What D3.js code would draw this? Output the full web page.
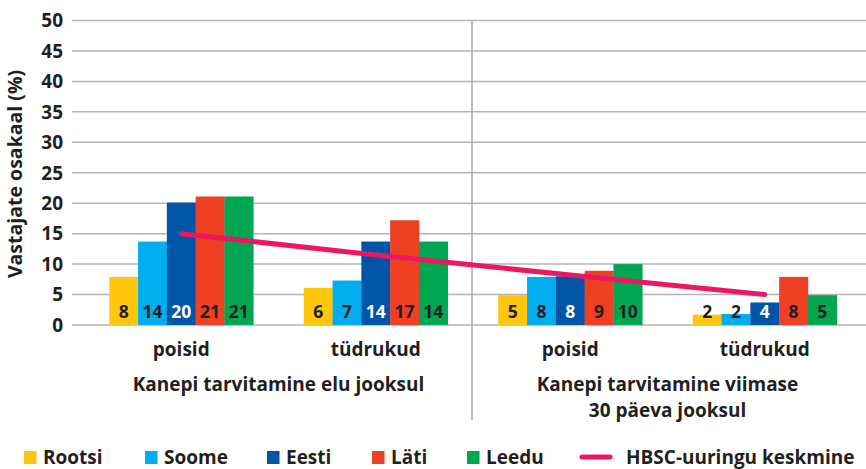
<!DOCTYPE html>
<html><head><meta charset="utf-8">
<script src="https://cdn.jsdelivr.net/npm/d3@7"></script>
<style>body{margin:0;background:#fff}svg{display:block}text{font-family:"Open Sans",sans-serif;font-weight:700;fill:#231f20}</style>
</head><body><svg id="c" width="866" height="469"></svg>
<script>
const groups = ["g1","g2","g3","g4"];
const groupLabels = ["poisid","tüdrukud","poisid","tüdrukud"];
const sectionLabels = [["Kanepi tarvitamine elu jooksul"],["Kanepi tarvitamine viimase","30 päeva jooksul"]];
const countries = ["Rootsi","Soome","Eesti","Läti","Leedu"];
const colors = ["#FFC60B","#00AEEF","#0055A6","#EF4023","#00A651"];
const values = [
  [7.9,13.7,20.1,21.1,21.1],
  [6.1,7.3,13.7,17.2,13.7],
  [4.9,7.9,8.0,8.9,10.0],
  [1.7,1.8,3.7,7.9,4.9]
];
const valueLabels = [
  [8,14,20,21,21],
  [6,7,14,17,14],
  [5,8,8,9,10],
  [2,2,4,8,5]
];
const hbsc = [15,11.5,8.2,5];
const hbscName = "HBSC-uuringu keskmine";
const yTicks = [0,5,10,15,20,25,30,35,40,45,50];
const yTitle = "Vastajate osakaal (%)";

const svg = d3.select("#c");
const x0 = d3.scaleBand().domain(groups).range([84,862]);
const x1 = d3.scaleBand().domain(countries).range([0,x0.bandwidth()]).paddingOuter(0.877);
const y = d3.scaleLinear().domain([0,50]).range([325,20.5]);

// grid
svg.append("g").selectAll("line").data(yTicks).join("line")
  .attr("x1",72).attr("x2",866).attr("y1",d=>y(d)).attr("y2",d=>y(d))
  .attr("stroke","#b5b5b5").attr("stroke-width",1.5);
svg.append("g").selectAll("text").data(yTicks).join("text")
  .attr("x",63).attr("y",d=>y(d)).attr("dy","0.36em").attr("text-anchor","end")
  .attr("font-size",19).text(d=>d);
svg.append("text").attr("transform","translate(22,174) rotate(-90)")
  .attr("text-anchor","middle").attr("font-size",19.5).text(yTitle);

// divider
svg.append("line").attr("x1",472).attr("x2",472).attr("y1",y(50)).attr("y2",420)
  .attr("stroke","#a8a8a8").attr("stroke-width",1.5);

// bars
const gg = svg.append("g").selectAll("g").data(groups).join("g")
  .attr("transform",g=>`translate(${x0(g)},0)`);
gg.selectAll("rect").data((g,i)=>values[i].map((v,j)=>({v,j}))).join("rect")
  .attr("x",d=>x1(countries[d.j])).attr("width",x1.bandwidth()+0.3)
  .attr("y",d=>y(d.v)).attr("height",d=>y(0)-y(d.v)).attr("fill",d=>colors[d.j]);
gg.selectAll("text.v").data((g,i)=>valueLabels[i].map((v,j)=>({v,j}))).join("text")
  .attr("class","v").attr("x",d=>x1(countries[d.j])+x1.bandwidth()/2).attr("y",318)
  .attr("text-anchor","middle").attr("font-size",17.5)
  .style("fill",d=>d.j===2?"#fff":"#231f20").text(d=>d.v);

// HBSC line
const line = d3.line().x((d,i)=>x0(groups[i])+x0.bandwidth()/2).y(d=>y(d));
svg.append("path").datum(hbsc).attr("d",line).attr("fill","none")
  .attr("stroke","#EC1763").attr("stroke-width",5).attr("stroke-linecap","round");

// category labels
svg.append("g").selectAll("text").data(groups).join("text")
  .attr("x",g=>x0(g)+x0.bandwidth()/2).attr("y",356).attr("text-anchor","middle")
  .attr("font-size",19).text((g,i)=>groupLabels[i]);
sectionLabels.forEach((lines,k)=>{
  const cx = (x0(groups[2*k])+x0(groups[2*k+1])+x0.bandwidth())/2;
  lines.forEach((s,li)=>svg.append("text").attr("x",cx).attr("y",391+li*26)
    .attr("text-anchor","middle").attr("font-size",19).text(s));
});

// legend
const legX = [24,145,267,372,467];
const lg = svg.append("g");
countries.forEach((c,i)=>{
  lg.append("rect").attr("x",legX[i]).attr("y",451).attr("width",12.5).attr("height",13).attr("fill",colors[i]);
  lg.append("text").attr("x",legX[i]+19).attr("y",463.5).attr("font-size",19).text(c);
});
lg.append("line").attr("x1",582).attr("x2",610).attr("y1",457).attr("y2",457)
  .attr("stroke","#EC1763").attr("stroke-width",5).attr("stroke-linecap","round");
lg.append("text").attr("x",626).attr("y",463.5).attr("font-size",19).text(hbscName);
</script></body></html>
